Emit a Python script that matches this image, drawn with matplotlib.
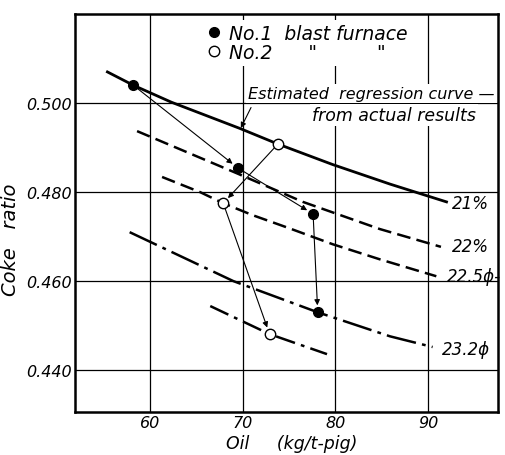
import matplotlib
matplotlib.use("Agg")
import matplotlib.pyplot as plt

# measured points (oil kg/t-pig, coke ratio)
no1_oil = [58.2, 69.5, 77.6, 78.1]
no1_coke = [0.5040, 0.4854, 0.4751, 0.4530]
no2_oil = [73.8, 67.9, 72.9]
no2_coke = [0.4908, 0.4775, 0.4481]

# estimated curves
c21_oil = [55.4, 58.2, 62.3, 69.7, 73.8, 79.7, 85.9, 92.0]
c21_coke = [0.5070, 0.5040, 0.5002, 0.4943, 0.4908, 0.4862, 0.4818, 0.4778]
c22_oil = [58.6, 69.4, 76.5, 84.8, 91.4]
c22_coke = [0.4937, 0.4842, 0.4778, 0.4717, 0.4677]
c225_oil = [61.3, 65.4, 67.9, 71.1, 75.0, 79.7, 84.8, 90.9]
c225_coke = [0.4834, 0.4800, 0.4775, 0.4748, 0.4719, 0.4683, 0.4649, 0.4611]
c232_oil = [57.8, 69.0, 78.1, 85.9, 90.5]
c232_coke = [0.4710, 0.4600, 0.4530, 0.4476, 0.4452]
c232b_oil = [66.5, 72.9, 79.1]
c232b_coke = [0.4544, 0.4481, 0.4436]

curve_labels = ["21%", "22%", "22.5\u03d5-", "23.2\u03d5"]
label_oil = [92.6, 92.6, 92.0, 91.5]
label_coke = [0.4775, 0.4679, 0.4611, 0.4447]

xticks = [60, 70, 80, 90]
yticks = [0.440, 0.460, 0.480, 0.500]

plt.rcParams['font.family'] = ['DejaVu Sans']
plt.rcParams['font.style'] = 'italic'

fig = plt.figure(figsize=(5.05, 4.56), dpi=100)
ax = fig.add_axes([0.1485, 0.0943, 0.8375, 0.8727])
ax.set_xlim(51.9, 97.55)
ax.set_ylim(0.4306, 0.520)

ax.set_xticks(xticks)
ax.set_yticks(yticks)
ax.set_xticklabels([str(v) for v in xticks], fontsize=11.5)
ax.set_yticklabels(["%.3f" % v for v in yticks], fontsize=11.5)
ax.tick_params(length=0, pad=2)
ax.grid(True, color="black", lw=0.9)
for s in ax.spines.values():
    s.set_linewidth(1.8)
    s.set_zorder(7)

ax.plot(c21_oil, c21_coke, color="black", lw=2.0)
ax.plot(c22_oil, c22_coke, color="black", lw=1.8, dashes=(5.5, 2.5))
ax.plot(c225_oil, c225_coke, color="black", lw=1.8, dashes=(5.5, 2.5))
ax.plot(c232_oil, c232_coke, color="black", lw=1.8, dashes=(12, 2.5, 1.5, 2.5))
ax.plot(c232b_oil, c232b_coke, color="black", lw=1.8, dashes=(8, 2.5, 1.5, 2.5))

for t, x, y in zip(curve_labels, label_oil, label_coke):
    ax.text(x, y, t, fontsize=12, va="center", ha="left")

# arrows between successive measurements
for xs, ys in [(no1_oil, no1_coke), (no2_oil, no2_coke)]:
    for i in range(len(xs) - 1):
        ax.annotate("", xy=(xs[i + 1], ys[i + 1]), xytext=(xs[i], ys[i]),
                    arrowprops=dict(arrowstyle="-|>", color="black", lw=0.8,
                                    mutation_scale=8, shrinkA=4, shrinkB=5))

ax.plot(no1_oil, no1_coke, "o", ms=7, mfc="black", mec="black", ls="none",
        label="No.1  blast furnace", zorder=5)
ax.plot(no2_oil, no2_coke, "o", ms=7.5, mfc="white", mec="black", mew=1.0,
        ls="none", label='No.2      "          "', zorder=5)
leg = ax.legend(loc="upper left", bbox_to_anchor=(0.285, 1.008), frameon=True,
                fontsize=13.5, handlelength=0.6, handletextpad=0.5,
                labelspacing=0.0, borderpad=0.2, fancybox=False)
leg.get_frame().set_edgecolor("none")
leg.get_frame().set_facecolor("white")
leg.get_frame().set_alpha(1)

ax.text(97.2, 0.5021, "Estimated  regression curve \u2014", fontsize=11.5,
        ha="right", va="center", zorder=4,
        bbox=dict(facecolor="white", edgecolor="none", pad=1.5))
ax.text(95.2, 0.4974, "from actual results", fontsize=12.5,
        ha="right", va="center", zorder=4,
        bbox=dict(facecolor="white", edgecolor="none", pad=1.5))
ax.annotate("", xy=(69.8, 0.4944), xytext=(70.9, 0.4990),
            arrowprops=dict(arrowstyle="-|>", color="black", lw=0.8,
                            mutation_scale=8, shrinkA=0, shrinkB=0), zorder=6)

ax.set_xlabel("Oil     (kg/t-pig)", fontsize=12.5)
ax.xaxis.set_label_coords(0.513, -0.055)
ax.set_ylabel("Coke   ratio", fontsize=14)
ax.yaxis.set_label_coords(-0.13, 0.435)

fig.savefig("out.png", dpi=100)
